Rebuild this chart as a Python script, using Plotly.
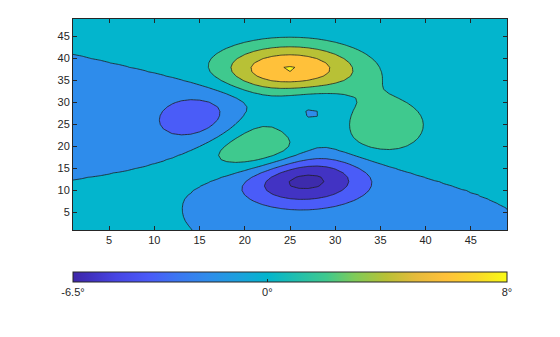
import numpy as np
import plotly.graph_objects as go

# Grid (MATLAB peaks(49) sample field), indices 1..49
n = 49
x_idx = list(range(1, n + 1))
y_idx = list(range(1, n + 1))
u = np.linspace(-3, 3, n)
U, V = np.meshgrid(u, u)
Z = (3 * (1 - U) ** 2 * np.exp(-(U ** 2) - (V + 1) ** 2)
     - 10 * (U / 5 - U ** 3 - V ** 5) * np.exp(-U ** 2 - V ** 2)
     - 1 / 3 * np.exp(-(U + 1) ** 2 - V ** 2))

# contour levels
level_start, level_end, level_step = -6, 8, 2
# colours of the 9 filled bands (below -6, -6..-4, ..., 6..8, above 8)
band_colors = ["#3D2BAC", "#4233C3", "#4A5CF8", "#2E8CEB", "#03B5CD",
               "#3FC98E", "#B8C136", "#FFC13A", "#F6F41C"]

# colour limits and colorbar labels
cmin, cmax = float(Z.min()), float(Z.max())
cbar_vals = [cmin, 0, cmax]
cbar_text = ["-6.5°", "0°", "8°"]
xticks = [5, 10, 15, 20, 25, 30, 35, 40, 45]
yticks = [5, 10, 15, 20, 25, 30, 35, 40, 45]

parula = [
    [0.000, "#3E26A8"], [0.037, "#4030BE"], [0.10, "#4745E4"],
    [0.174, "#4A5AF8"], [0.24, "#3B76F2"], [0.311, "#2E8CEB"],
    [0.38, "#1CA0DE"], [0.448, "#03B5CD"], [0.584, "#3FC98E"],
    [0.65, "#80CB58"], [0.721, "#B8C136"], [0.79, "#E6BB3C"],
    [0.858, "#FFC13A"], [0.93, "#FAD82A"], [1.0, "#F9FB15"],
]

band_scale = []
nb = len(band_colors)
for k, c in enumerate(band_colors):
    band_scale.append([k / nb, c])
    band_scale.append([(k + 1) / nb, c])

fig = go.Figure()
fig.add_trace(go.Contour(
    x=x_idx, y=y_idx, z=Z,
    autocontour=False,
    contours=dict(start=level_start, end=level_end, size=level_step, coloring="fill"),
    colorscale=band_scale, showscale=False,
    line=dict(color="#1e1e1e", width=0.8, smoothing=0),
    hoverinfo="skip",
))
fig.add_trace(go.Scatter(
    x=[None], y=[None], mode="markers", showlegend=False, hoverinfo="skip",
    marker=dict(color=[0], colorscale=parula, cmin=cmin, cmax=cmax, showscale=True,
                colorbar=dict(orientation="h", lenmode="pixels", len=434,
                              thickness=10, x=0.5, xanchor="center",
                              y=-0.199, yanchor="top", xpad=0, ypad=0,
                              outlinewidth=1, outlinecolor="#262626",
                              tickvals=cbar_vals, ticktext=cbar_text,
                              ticks="inside", ticklen=3, tickcolor="#262626",
                              tickfont=dict(size=11, color="#262626"))),
))

axis_common = dict(showline=True, linecolor="#262626", linewidth=1, mirror="ticks",
                   ticks="inside", ticklen=4, tickcolor="#262626", showgrid=False,
                   zeroline=False, tickfont=dict(size=11, color="#262626"))
fig.update_xaxes(range=[1, 49], tickvals=xticks, **axis_common)
fig.update_yaxes(range=[1, 49], tickvals=yticks, **axis_common)
fig.update_layout(
    width=560, height=337,
    margin=dict(l=73, r=53, t=19, b=107),
    paper_bgcolor="white", plot_bgcolor="white",
    font=dict(family="Liberation Sans, Arial, sans-serif", size=11, color="#262626"),
)
fig.write_html("out.html")
